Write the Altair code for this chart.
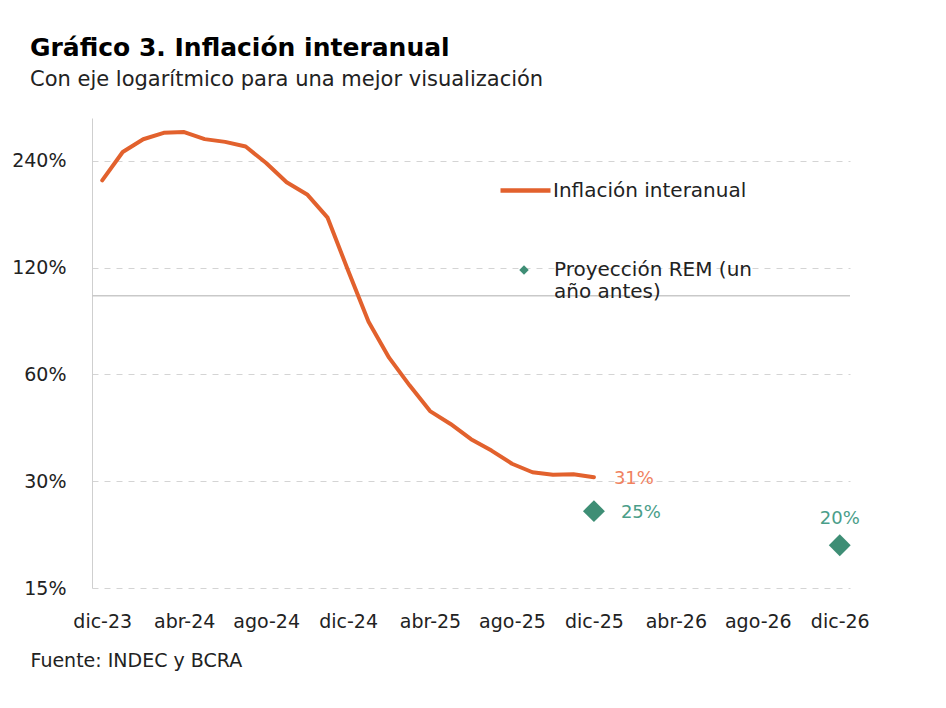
import altair as alt
import pandas as pd

months = ["dic-23", "ene-24", "feb-24", "mar-24", "abr-24", "may-24", "jun-24", "jul-24",
          "ago-24", "sep-24", "oct-24", "nov-24", "dic-24", "ene-25", "feb-25", "mar-25",
          "abr-25", "may-25", "jun-25", "jul-25", "ago-25", "sep-25", "oct-25", "nov-25",
          "dic-25", "ene-26", "feb-26", "mar-26", "abr-26", "may-26", "jun-26", "jul-26",
          "ago-26", "sep-26", "oct-26", "nov-26", "dic-26"]
infl_months = months[:25]
infl_values = [211.4, 254.2, 276.2, 287.9, 289.4, 276.4, 271.5, 263.4, 236.7, 209.0,
               193.0, 166.0, 117.8, 84.5, 66.9, 55.9, 47.3, 43.5, 39.4, 36.6,
               33.6, 31.8, 31.3, 31.4, 30.8]
last_label = "31%"
rem_months = ["dic-25", "dic-26"]
rem_values = [24.7, 19.8]
rem_labels = ["25%", "20%"]
y_ticks = [15, 30, 60, 120, 240]
x_ticks = months[::4]
ref_line = 100

S1 = "Inflación interanual"
S2 = "Proyección REM (un año antes)"
ORANGE = "#E2612D"
GREEN = "#3E8E75"
FONT = "DejaVu Sans"

df_infl = pd.DataFrame({"mes": infl_months, "valor": infl_values, "serie": S1})
df_last = df_infl.tail(1).assign(label=last_label)
df_rem = pd.DataFrame({"mes": rem_months, "valor": rem_values, "label": rem_labels, "serie": S2})

x = alt.X("mes:N", sort=months,
          scale=alt.Scale(domain=months, type="point", padding=0.5),
          axis=alt.Axis(values=x_ticks, labelAngle=0, labelOverlap=False, grid=False,
                        domain=False, ticks=False, labelPadding=24, labelFontSize=19,
                        labelColor="#222", labelFont=FONT,
                        title="Fuente: INDEC y BCRA", titleX=-62, titleY=72,
                        titleAlign="left", titleAnchor="start", titleBaseline="middle",
                        titleFontWeight="normal", titleFontSize=19, titleColor="#222",
                        titleFont=FONT))
y = alt.Y("valor:Q",
          scale=alt.Scale(type="log", domain=[15, 317], nice=False),
          axis=alt.Axis(values=y_ticks, labelExpr="datum.value + '%'", grid=True,
                        gridDash=[6, 6], gridColor="#d4d4d4", gridWidth=1,
                        domain=True, domainColor="#cfcfcf", ticks=False,
                        labelPadding=26, labelFontSize=19, labelColor="#222",
                        labelFont=FONT, title=None))

rule = alt.Chart(pd.DataFrame({"v": [ref_line]})).mark_rule(
    color="#c9c9c9", strokeWidth=1.3).encode(y=alt.Y("v:Q"))

line = alt.Chart(df_infl).mark_line(strokeWidth=4, strokeCap="round", strokeJoin="round").encode(
    x=x, y=y,
    color=alt.Color("serie:N",
                    scale=alt.Scale(domain=[S1], range=[ORANGE]),
                    legend=alt.Legend(title=None, orient="none", legendX=406, legendY=45,
                                      symbolType="stroke", symbolSize=2500,
                                      symbolStrokeWidth=4.5, labelOffset=0,
                                      labelFontSize=20, labelColor="#222",
                                      labelFont=FONT, labelLimit=400)))

last_text = alt.Chart(df_last).mark_text(
    align="left", baseline="middle", dx=20, dy=2, fontSize=18, color="#F0825F", font=FONT
).encode(x=x, y=y, text="label:N")

points = alt.Chart(df_rem).mark_point(shape="diamond", filled=True, size=480, opacity=1).encode(
    x=x, y=y,
    color=alt.Color("serie:N",
                    scale=alt.Scale(domain=[S2], range=[GREEN]),
                    legend=alt.Legend(title=None, orient="none", legendX=422, legendY=142,
                                      symbolType="diamond", symbolSize=90,
                                      labelOffset=20,
                                      labelExpr="['Proyección REM (un', 'año antes)']",
                                      labelFontSize=20, labelColor="#222",
                                      labelFont=FONT, labelLimit=400)))

rem_text1 = alt.Chart(df_rem).transform_filter(alt.datum.mes == "dic-25").mark_text(
    align="left", baseline="middle", dx=27, dy=2, fontSize=18, color="#4A9E89", font=FONT
).encode(x=x, y=y, text="label:N")

rem_text2 = alt.Chart(df_rem).transform_filter(alt.datum.mes == "dic-26").mark_text(
    align="center", baseline="middle", dy=-26, fontSize=18, color="#4A9E89", font=FONT
).encode(x=x, y=y, text="label:N")

chart = alt.layer(rule, line, last_text, points, rem_text1, rem_text2).resolve_scale(
    color="independent"
).resolve_legend(color="independent").properties(
    width=758, height=470,
    autosize=alt.AutoSizeParams(type="none"),
    padding={"left": 84, "top": 110, "right": 80, "bottom": 100},
    title=alt.TitleParams(
        text="Gráfico 3. Inflación interanual",
        subtitle="Con eje logarítmico para una mejor visualización",
        anchor="start", frame="group", dx=-62, offset=28,
        fontSize=25, fontWeight="bold", font=FONT, color="#000",
        subtitleFontSize=21, subtitleFont=FONT, subtitleColor="#222",
        subtitlePadding=8),
).configure_view(stroke=None)

chart.save("out.html", embed_options={"renderer": "svg", "actions": False})
